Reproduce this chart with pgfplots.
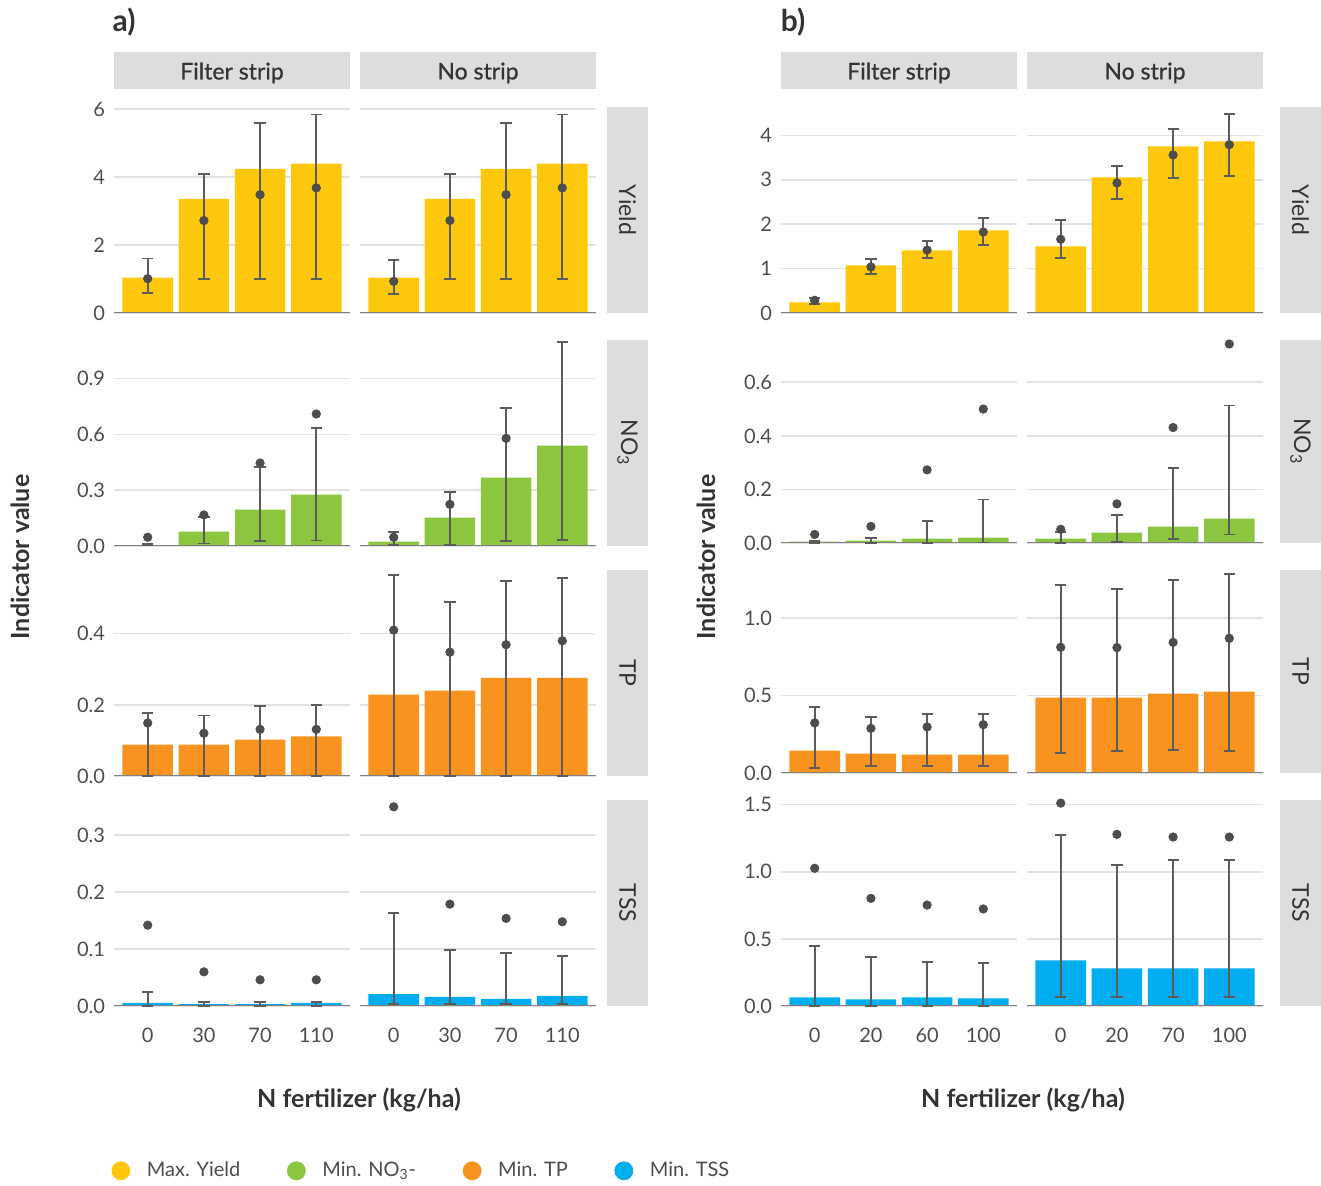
\documentclass[border=0pt]{standalone}
\usepackage{fontspec}
\setmainfont{Lato}
\newfontface\stripface{Lato}[FakeBold=0.7]
\usepackage{pgfplots}
\usepackage{pgfplotstable}
\pgfplotsset{compat=1.18}

\definecolor{cyield}{HTML}{FDC80C}
\definecolor{cno}{HTML}{8CC63F}
\definecolor{ctp}{HTML}{F7931E}
\definecolor{ctss}{HTML}{00ADEE}
\definecolor{ptgray}{HTML}{4D4D4D}
\definecolor{errgray}{HTML}{5C5C5C}
\definecolor{gridgray}{HTML}{E2E2E2}
\definecolor{axisgray}{HTML}{808080}
\definecolor{stripgray}{HTML}{DCDDDE}
\definecolor{textgray}{HTML}{333333}
\definecolor{ticgray}{HTML}{4D4D4D}

% columns: x = fertilizer level index, bar = optimum, pt = mean, lo/hi = range
% ---------- a) ----------
\pgfplotstableread{
x bar pt lo hi
1 1.04 1.01 0.58 1.60
2 3.36 2.72 0.99 4.10
3 4.24 3.48 0.99 5.58
4 4.39 3.68 0.99 5.84
}\aYF
\pgfplotstableread{
x bar pt lo hi
1 1.04 0.93 0.55 1.57
2 3.36 2.72 0.99 4.10
3 4.24 3.48 0.99 5.58
4 4.39 3.68 0.99 5.84
}\aYN
\pgfplotstableread{
x bar pt lo hi
1 0.005 0.047 0.003 0.012
2 0.077 0.167 0.013 0.155
3 0.195 0.446 0.025 0.423
4 0.276 0.710 0.030 0.636
}\aNF
\pgfplotstableread{
x bar pt lo hi
1 0.023 0.047 0.007 0.074
2 0.152 0.224 0.007 0.292
3 0.368 0.579 0.025 0.744
4 0.540 nan 0.034 1.099
}\aNN
\pgfplotstableread{
x bar pt lo hi
1 0.088 0.149 0 0.178
2 0.088 0.120 0 0.170
3 0.102 0.131 0 0.196
4 0.111 0.131 0 0.200
}\aPF
\pgfplotstableread{
x bar pt lo hi
1 0.229 0.410 0 0.564
2 0.240 0.348 0 0.490
3 0.276 0.369 0 0.547
4 0.276 0.380 0 0.556
}\aPN
\pgfplotstableread{
x bar pt lo hi
1 0.0053 0.142 0 0.025
2 0.0035 0.060 0 0.0076
3 0.0035 0.046 0 0.0076
4 0.0053 0.046 0 0.0076
}\aSF
\pgfplotstableread{
x bar pt lo hi
1 0.021 0.350 0.0035 0.163
2 0.016 0.179 0.0035 0.099
3 0.0123 0.154 0.0035 0.093
4 0.0176 0.148 0.0035 0.088
}\aSN
% ---------- b) ----------
\pgfplotstableread{
x bar pt lo hi
1 0.24 0.285 0.195 0.345
2 1.073 1.036 0.87 1.216
3 1.411 1.418 1.231 1.62
4 1.861 1.824 1.523 2.139
}\bYF
\pgfplotstableread{
x bar pt lo hi
1 1.50 1.659 1.231 2.094
2 3.054 2.927 2.559 3.302
3 3.752 3.557 3.032 4.135
4 3.865 3.79 3.077 4.473
}\bYN
\pgfplotstableread{
x bar pt lo hi
1 0.005 0.032 0 0.006
2 0.009 0.062 0 0.020
3 0.016 0.273 0 0.083
4 0.020 0.500 0.002 0.162
}\bNF
\pgfplotstableread{
x bar pt lo hi
1 0.016 0.051 0 0.040
2 0.039 0.146 0.005 0.103
3 0.061 0.431 0.016 0.279
4 0.091 0.743 0.032 0.513
}\bNN
\pgfplotstableread{
x bar pt lo hi
1 0.144 0.323 0.034 0.424
2 0.125 0.288 0.043 0.359
3 0.118 0.297 0.043 0.383
4 0.118 0.312 0.043 0.383
}\bPF
\pgfplotstableread{
x bar pt lo hi
1 0.486 0.811 0.127 1.211
2 0.486 0.809 0.140 1.185
3 0.512 0.843 0.146 1.247
4 0.525 0.869 0.140 1.286
}\bPN
\pgfplotstableread{
x bar pt lo hi
1 0.065 1.026 0 0.447
2 0.050 0.802 0 0.365
3 0.065 0.752 0 0.325
4 0.057 0.723 0 0.318
}\bSF
\pgfplotstableread{
x bar pt lo hi
1 0.340 1.512 0.065 1.274
2 0.281 1.279 0.065 1.048
3 0.281 1.259 0.065 1.085
4 0.281 1.259 0.065 1.085
}\bSN

\pgfplotsset{
  facet/.style={
    scale only axis, width=118pt, anchor=south west,
    xmin=0.4, xmax=4.6, xtick={1,2,3,4}, xticklabels={},
    axis line style={draw=none}, major tick length=0pt,
    ymajorgrids, grid style={gridgray, line width=0.8pt},
    tick label style={font=\fontsize{10}{12}\selectfont, text=ticgray},
    /pgf/number format/assume math mode=true,
    scaled y ticks=false,
    xticklabel style={yshift=-7.5pt},
    yticklabel style={xshift=-1pt},
  },
  onedec/.style={yticklabel style={/pgf/number format/.cd, fixed, fixed zerofill, precision=1}},
  noyl/.style={yticklabels={}},
  rowaY/.style={ymin=0, ymax=6.06, ytick={0,2,4,6}},
  rowaN/.style={ymin=0, ymax=1.108, ytick={0,0.3,0.6,0.9}, onedec},
  rowaP/.style={ymin=0, ymax=0.579, ytick={0,0.2,0.4}, onedec},
  rowaS/.style={ymin=0, ymax=0.362, ytick={0,0.1,0.2,0.3}, onedec},
  rowbY/.style={ymin=0, ymax=4.638, ytick={0,1,2,3,4}},
  rowbN/.style={ymin=0, ymax=0.758, ytick={0,0.2,0.4,0.6}, onedec},
  rowbP/.style={ymin=0, ymax=1.31, ytick={0,0.5,1}, onedec},
  rowbS/.style={ymin=0, ymax=1.535, ytick={0,0.5,1,1.5}, onedec},
  cap/.style={forget plot, only marks, mark=-, mark size=2.8pt,
    mark options={draw=errgray, line width=0.9pt}},
}

% one facet: #1 table, #2 bar colour, #3 x, #4 y, #5 height, #6 axis options, #7 extra content
\newcommand{\facet}[7]{%
\begin{axis}[facet, at={(#3,#4)}, height=#5, #6]
\addplot[forget plot, ybar, bar width=0.9, bar shift=0pt, fill=#2, draw=none]
  table[x=x, y=bar] {#1};
% range line from lo to hi
\addplot[forget plot, draw=none, mark=none,
  error bars/.cd, y dir=both, y explicit, error mark=none,
  error bar style={draw=errgray, line width=0.9pt, solid}]
  table[x=x, y expr={(\thisrow{lo}+\thisrow{hi})/2},
        y error expr={(\thisrow{hi}-\thisrow{lo})/2}] {#1};
% end caps
\addplot[cap] table[x=x, y=lo] {#1};
\addplot[cap] table[x=x, y=hi] {#1};
\addplot[forget plot, only marks, mark=*, mark size=2.1pt,
  mark options={draw=ptgray, fill=ptgray}]
  table[x=x, y=pt] {#1};
\draw[axisgray, line width=1pt] (rel axis cs:0,0) -- (rel axis cs:1,0);
#7
\end{axis}}

\newcommand{\stripfont}{\fontsize{11.5}{13}\selectfont}

\begin{document}
\begin{tikzpicture}
\path[use as bounding box] (0,0) rectangle (660.5pt,593pt);

% ---------------- panel a ----------------
\facet{\aYF}{cyield}{57pt}{436.5pt}{103pt}{rowaY}{}
\facet{\aYN}{cyield}{180pt}{436.5pt}{103pt}{rowaY, noyl}{}
\facet{\aNF}{cno}{57pt}{320pt}{103pt}{rowaN}{}
\facet{\aNN}{cno}{180pt}{320pt}{103pt}{rowaN, noyl}{}
\facet{\aPF}{ctp}{57pt}{205pt}{103pt}{rowaP}{}
\facet{\aPN}{ctp}{180pt}{205pt}{103pt}{rowaP, noyl}{}
\facet{\aSF}{ctss}{57pt}{90pt}{103pt}{rowaS, xticklabels={0,30,70,110},
  legend style={at={(-0.036,-0.80)}, anchor=west, draw=none, fill=none,
    legend columns=4, font=\fontsize{10}{12}\selectfont, text=ticgray,
    /tikz/every odd column/.append style={column sep=6.5pt},
    /tikz/every even column/.append style={column sep=21.5pt}}}{%
  \addlegendimage{only marks, mark=*, mark size=4.5pt, color=cyield}
  \addlegendentry{Max. Yield}
  \addlegendimage{only marks, mark=*, mark size=4.5pt, color=cno}
  \addlegendentry{Min. NO\textsubscript{3}-}
  \addlegendimage{only marks, mark=*, mark size=4.5pt, color=ctp}
  \addlegendentry{Min. TP}
  \addlegendimage{only marks, mark=*, mark size=4.5pt, color=ctss}
  \addlegendentry{Min. TSS}}
\facet{\aSN}{ctss}{180pt}{90pt}{103pt}{rowaS, noyl, xticklabels={0,30,70,110}}{}

% ---------------- panel b ----------------
\facet{\bYF}{cyield}{390.5pt}{436.5pt}{103pt}{rowbY}{}
\facet{\bYN}{cyield}{513.5pt}{436.5pt}{103pt}{rowbY, noyl}{}
\facet{\bNF}{cno}{390.5pt}{321.5pt}{101.5pt}{rowbN}{}
\facet{\bNN}{cno}{513.5pt}{321.5pt}{101.5pt}{rowbN, noyl}{}
\facet{\bPF}{ctp}{390.5pt}{206.5pt}{101.5pt}{rowbP}{}
\facet{\bPN}{ctp}{513.5pt}{206.5pt}{101.5pt}{rowbP, noyl}{}
\facet{\bSF}{ctss}{390.5pt}{90pt}{103pt}{rowbS, xticklabels={0,20,60,100}}{}
\facet{\bSN}{ctss}{513.5pt}{90pt}{103pt}{rowbS, noyl, xticklabels={0,20,70,100}}{}

% ---------------- strips ----------------
\begin{scope}[every node/.style={text=textgray, font=\stripfont}]
% top strips
\fill[stripgray] (57pt,548.5pt) rectangle (175pt,567pt);
\node[font=\stripfont\stripface] at (116pt,556.5pt) {Filter strip};
\fill[stripgray] (180pt,548.5pt) rectangle (298pt,567pt);
\node[font=\stripfont\stripface] at (239pt,556.5pt) {No strip};
\fill[stripgray] (390.5pt,548.5pt) rectangle (508.5pt,567pt);
\node[font=\stripfont\stripface] at (449.5pt,556.5pt) {Filter strip};
\fill[stripgray] (513.5pt,548.5pt) rectangle (631.5pt,567pt);
\node[font=\stripfont\stripface] at (572.5pt,556.5pt) {No strip};
% right strips, panel a
\fill[stripgray] (303.5pt,436.5pt) rectangle (324pt,539.5pt);
\node[rotate=-90] at (313.75pt,488pt) {Yield};
\fill[stripgray] (303.5pt,320pt) rectangle (324pt,423pt);
\node[rotate=-90] at (313.75pt,371.5pt) {NO\textsubscript{3}};
\fill[stripgray] (303.5pt,205pt) rectangle (324pt,308pt);
\node[rotate=-90] at (313.75pt,256.5pt) {TP};
\fill[stripgray] (303.5pt,90pt) rectangle (324pt,193pt);
\node[rotate=-90] at (313.75pt,141.5pt) {TSS};
% right strips, panel b
\fill[stripgray] (640pt,436.5pt) rectangle (660.5pt,539.5pt);
\node[rotate=-90] at (650.25pt,488pt) {Yield};
\fill[stripgray] (640pt,321.5pt) rectangle (660.5pt,423pt);
\node[rotate=-90] at (650.25pt,372.25pt) {NO\textsubscript{3}};
\fill[stripgray] (640pt,206.5pt) rectangle (660.5pt,308pt);
\node[rotate=-90] at (650.25pt,257.25pt) {TP};
\fill[stripgray] (640pt,90pt) rectangle (660.5pt,193pt);
\node[rotate=-90] at (650.25pt,141.5pt) {TSS};
\end{scope}

% ---------------- titles ----------------
\begin{scope}[every node/.style={text=textgray}]
\node[font=\fontsize{15}{17}\selectfont\bfseries] at (62pt,582pt) {a)};
\node[font=\fontsize{15}{17}\selectfont\bfseries] at (396.5pt,582pt) {b)};
\node[font=\fontsize{12.5}{14}\selectfont\bfseries, rotate=90] at (10pt,314.5pt) {Indicator value};
\node[font=\fontsize{12.5}{14}\selectfont\bfseries, rotate=90] at (353pt,314.5pt) {Indicator value};
\node[font=\fontsize{12.5}{14}\selectfont\bfseries] at (179.5pt,43pt) {N fertilizer (kg/ha)};
\node[font=\fontsize{12.5}{14}\selectfont\bfseries] at (511.5pt,43pt) {N fertilizer (kg/ha)};
\end{scope}
\end{tikzpicture}
\end{document}
